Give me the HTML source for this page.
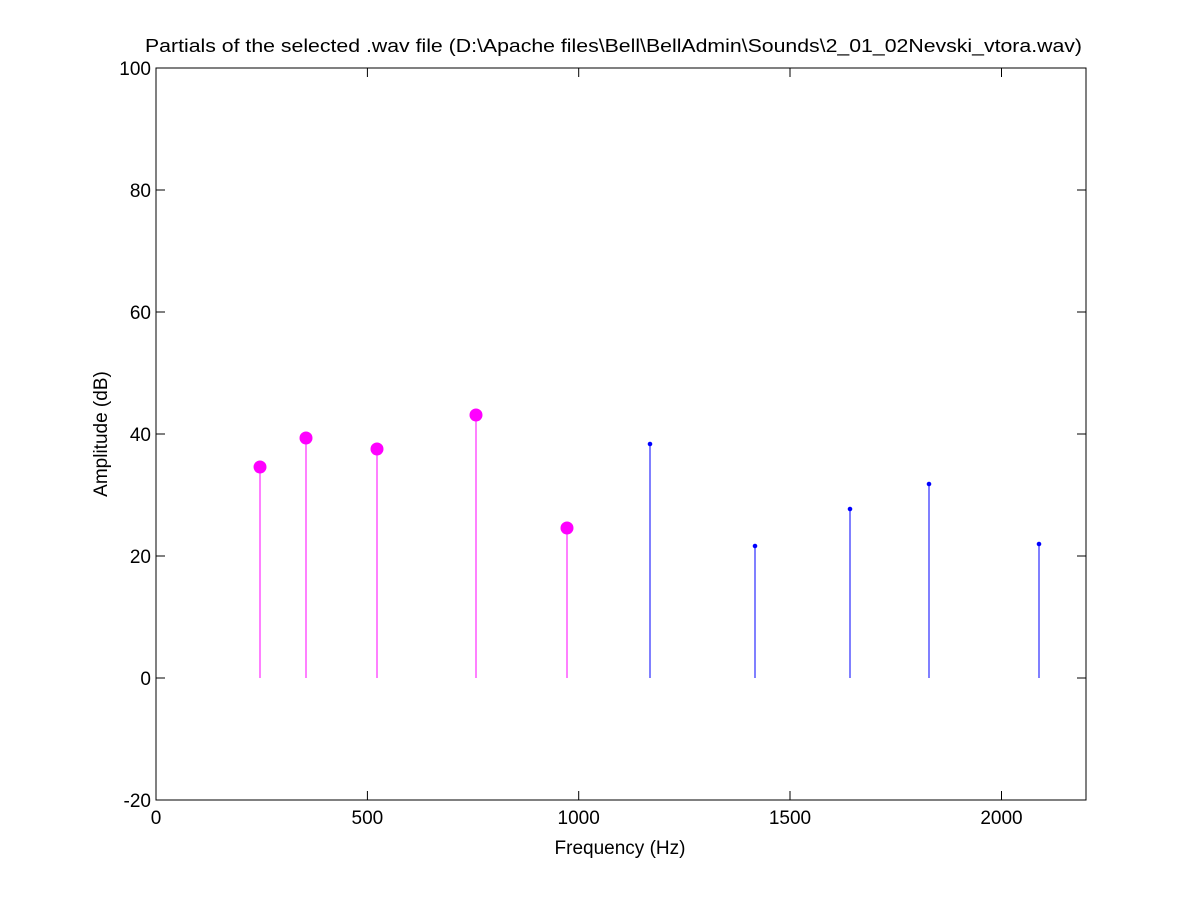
<!DOCTYPE html>
<html><head><style>body{margin:0;background:#fff}svg text{font-family:"Liberation Sans",Arial,sans-serif;font-size:19px;fill:#000}</style></head>
<body>
<svg width="1200" height="900" xmlns="http://www.w3.org/2000/svg">
<rect x="0" y="0" width="1200" height="900" fill="#fff"/>
<rect x="156" y="68" width="930" height="732" fill="#fff" stroke="#000" stroke-width="1"/>
<g stroke="#000" stroke-width="1">
<line x1="156" y1="800" x2="165" y2="800"/><line x1="1086" y1="800" x2="1077" y2="800"/>
<line x1="156" y1="678" x2="165" y2="678"/><line x1="1086" y1="678" x2="1077" y2="678"/>
<line x1="156" y1="556" x2="165" y2="556"/><line x1="1086" y1="556" x2="1077" y2="556"/>
<line x1="156" y1="434" x2="165" y2="434"/><line x1="1086" y1="434" x2="1077" y2="434"/>
<line x1="156" y1="312" x2="165" y2="312"/><line x1="1086" y1="312" x2="1077" y2="312"/>
<line x1="156" y1="190" x2="165" y2="190"/><line x1="1086" y1="190" x2="1077" y2="190"/>
<line x1="156" y1="68" x2="165" y2="68"/><line x1="1086" y1="68" x2="1077" y2="68"/>
<line x1="367.4" y1="800" x2="367.4" y2="791"/><line x1="367.4" y1="68" x2="367.4" y2="77"/>
<line x1="578.7" y1="800" x2="578.7" y2="791"/><line x1="578.7" y1="68" x2="578.7" y2="77"/>
<line x1="790" y1="800" x2="790" y2="791"/><line x1="790" y1="68" x2="790" y2="77"/>
<line x1="1001.5" y1="800" x2="1001.5" y2="791"/><line x1="1001.5" y1="68" x2="1001.5" y2="77"/>
</g>
<g text-anchor="end">
<text x="151" y="807">-20</text><text x="151" y="685">0</text><text x="151" y="563">20</text>
<text x="151" y="441">40</text><text x="151" y="319">60</text><text x="151" y="197">80</text><text x="151" y="75">100</text>
</g>
<g text-anchor="middle">
<text x="156" y="824">0</text><text x="367.4" y="824">500</text><text x="578.7" y="824">1000</text>
<text x="790" y="824">1500</text><text x="1001.5" y="824">2000</text>
<text x="620" y="854">Frequency (Hz)</text>
<text x="102" y="434" transform="rotate(-90 102 434)" dy="5">Amplitude (dB)</text>
</g>
<text x="145" y="52" font-size="18" textLength="937" lengthAdjust="spacingAndGlyphs" style="font-size:18px">Partials of the selected .wav file (D:\Apache files\Bell\BellAdmin\Sounds\2_01_02Nevski_vtora.wav)</text>
<g stroke="#f0f" stroke-width="1" fill="#f0f">
<line x1="260" y1="678" x2="260" y2="467"/><circle cx="260" cy="467" r="6"/>
<line x1="306" y1="678" x2="306" y2="438"/><circle cx="306" cy="438" r="6"/>
<line x1="377" y1="678" x2="377" y2="449"/><circle cx="377" cy="449" r="6"/>
<line x1="476" y1="678" x2="476" y2="415"/><circle cx="476" cy="415" r="6"/>
<line x1="567" y1="678" x2="567" y2="528"/><circle cx="567" cy="528" r="6"/>
</g>
<g stroke="#00f" stroke-width="1" fill="#00f">
<line x1="650" y1="678" x2="650" y2="444"/><circle cx="650" cy="444" r="1.8"/>
<line x1="755" y1="678" x2="755" y2="546"/><circle cx="755" cy="546" r="1.8"/>
<line x1="850" y1="678" x2="850" y2="509"/><circle cx="850" cy="509" r="1.8"/>
<line x1="929" y1="678" x2="929" y2="484"/><circle cx="929" cy="484" r="1.8"/>
<line x1="1039" y1="678" x2="1039" y2="544"/><circle cx="1039" cy="544" r="1.8"/>
</g>
</svg>
</body></html>
